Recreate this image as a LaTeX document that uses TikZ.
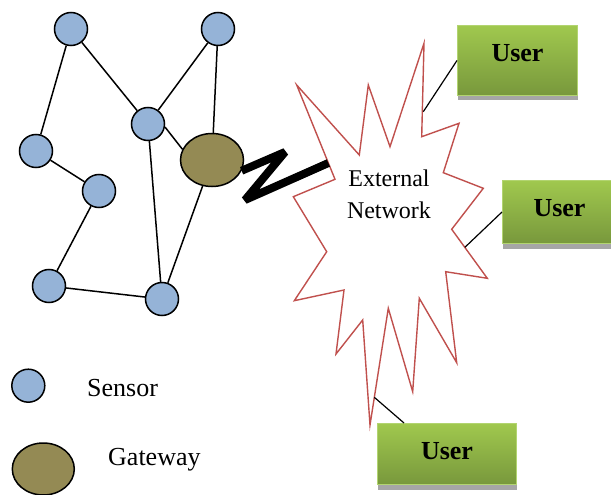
\documentclass[tikz,border=0pt]{standalone}
\usepackage{fontspec}
\setmainfont{Liberation Serif}
\usetikzlibrary{shapes.geometric,shadows}

\definecolor{sensorblue}{HTML}{95B3D7}
\definecolor{gatewayolive}{HTML}{948A54}
\definecolor{starred}{HTML}{C0504D}
\definecolor{usertop}{RGB}{160,200,78}
\definecolor{userbot}{RGB}{120,152,60}
\definecolor{userrim}{RGB}{178,212,112}

\tikzset{
  sensor/.style={circle, draw=black, line width=1.5pt, fill=sensorblue, minimum size=33pt, inner sep=0pt},
  gateway/.style={ellipse, draw=black, line width=1.5pt, fill=gatewayolive, minimum width=63pt, minimum height=53pt, inner sep=0pt},
  link/.style={line width=1.5pt},
  userbox/.style={draw=userrim, line width=1pt, top color=usertop, bottom color=userbot,
    drop shadow={shadow xshift=0.5pt, shadow yshift=-5pt, fill=black!35, opacity=1},
    anchor=north west, inner xsep=0pt, inner ysep=0pt, text height=35.6pt,
    font=\fontsize{26}{30}\selectfont\bfseries},
  legendtext/.style={anchor=base west, inner sep=0pt, font=\fontsize{26}{30}\selectfont}
}

\begin{document}
\begin{tikzpicture}[x=1pt, y=-1pt]
    \useasboundingbox (0,0) rectangle (611,495);

    % Sensors
    \node[sensor] (s1) at (71,29) {};
    \node[sensor] (s2) at (218,29) {};
    \node[sensor] (s3) at (148,124) {};
    \node[sensor] (s4) at (36,151) {};
    \node[sensor] (s5) at (99,191) {};
    \node[sensor] (s6) at (49,286) {};
    \node[sensor] (s7) at (162,299) {};

    % Gateway
    \node[gateway] (gw) at (212,160) {};

    % Links
    \draw[link] (s1) -- (s4);
    \draw[link] (s1) -- (s3);
    \draw[link] (s2) -- (s3);
    \draw[link] (s2) -- (gw);
    \draw[link] (s3.-10) -- (gw.160);
    \draw[link] (s3) -- (s7);
    \draw[link] (s4) -- (s5);
    \draw[link] (s5) -- (s6);
    \draw[link] (s6) -- (s7);
    \draw[link] (s7) -- (gw);

    % External network
    \draw[starred, fill=white, line width=1.4pt] (296.7,85) -- (359.3,155) -- (368.3,85) -- (390,146.7)
        -- (424,43.3) -- (421.7,136.7) -- (459,123.3) -- (443.3,172.7) -- (483.3,188.3)
        -- (451.7,229.3) -- (487.3,278.3) -- (445.7,271.7) -- (456.7,362.7) -- (419.3,298.3)
        -- (412.7,391.7) -- (388.3,308.3) -- (370,425) -- (362.7,320) -- (336,354)
        -- (344,290) -- (294.3,300.7) -- (326.7,251.7) -- (293.3,196.7) -- (335,179.3) -- cycle;
    \node[align=center, inner sep=0pt, font=\fontsize{24}{32}\selectfont] (net) at (389,194) {External\\Network};
    \coordinate (z1) at (285,152);
    \coordinate (z2) at (245,200);
    \coordinate (nw) at (328.4,163);
    \coordinate (e1) at (423.3,111.7);
    \coordinate (e2) at (464.9,247.3);
    \coordinate (e3) at (374.3,397.3);

    % Wireless link
    \draw[line width=8pt, line join=bevel] (gw.-20) -- (z1) -- (z2) -- (nw);

    % Users
    \node[userbox, minimum width=120pt, text depth=34.4pt] (u1) at (457,25) {User};
    \node[userbox, minimum width=114pt, text depth=27.4pt] (u2) at (502,180) {User};
    \node[userbox, minimum width=139pt, text depth=25.4pt] (u3) at (377,423) {User};
    \draw[line width=1.2pt] (u1.west) -- (e1);
    \draw[line width=1.2pt] (u2.west) -- (e2);
    \draw[line width=1.2pt] ([xshift=27pt]u3.north west) -- (e3);

    % Legend
    \node[sensor] (ls) at (28.3,385.7) {};
    \node[legendtext] (lst) at (87,396) {Sensor};
    \node[gateway, minimum width=62pt, minimum height=52pt] (lg) at (43.3,469) {};
    \node[legendtext] (lgt) at (108,465) {Gateway};
\end{tikzpicture}
\end{document}
